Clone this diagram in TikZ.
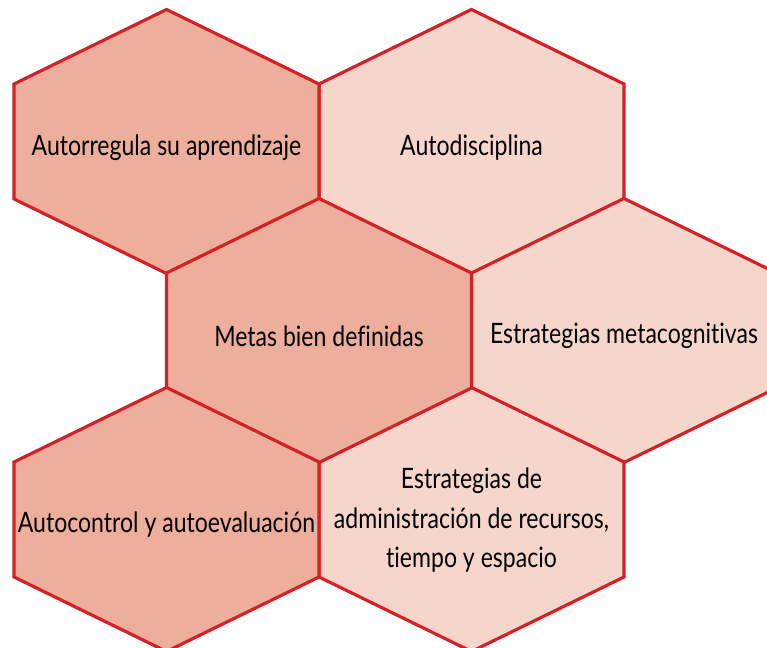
\documentclass[tikz,border=0pt]{standalone}
\usepackage{fontspec}
\setmainfont[FakeStretch=0.82,Ligatures=NoCommon]{Lato}
\definecolor{rojoborde}{HTML}{D42027}
\definecolor{salmonoscuro}{HTML}{EDAE9C}
\definecolor{salmonclaro}{HTML}{F6D6CB}
\begin{document}
\begin{tikzpicture}[x=0.02cm,y=0.02cm,line join=miter,
		hexborde/.style={draw=rojoborde,line width=1.8pt},
		hexoscuro/.style={hexborde,fill=salmonoscuro},
		hexclaro/.style={hexborde,fill=salmonclaro},
		texto/.style={font=\fontsize{16}{22.5}\selectfont,align=center,inner sep=0pt}]
			\useasboundingbox (0,0) rectangle (767,648);
			\clip (0,0) rectangle (767,648);
			
			% centros de los hexagonos
			\coordinate (H1) at (166.5, 506.5);
			\coordinate (H2) at (471.5, 506.5);
			\coordinate (H3) at (319, 317.5);
			\coordinate (H4) at (624, 317.5);
			\coordinate (H5) at (166.5, 128.5);
			\coordinate (H6) at (471.5, 128.5);
			
			% hexagonos claros
			\path[hexclaro] (H2) ++(0,132) -- ++(152.5,-74.5) -- ++(0,-115) -- ++(-152.5,-74.5) -- ++(-152.5,74.5) -- ++(0,115) -- cycle;
			\path[hexclaro] (H4) ++(0,132) -- ++(152.5,-74.5) -- ++(0,-115) -- ++(-152.5,-74.5) -- ++(-152.5,74.5) -- ++(0,115) -- cycle;
			\path[hexclaro] (H6) ++(0,132) -- ++(152.5,-74.5) -- ++(0,-115) -- ++(-152.5,-74.5) -- ++(-152.5,74.5) -- ++(0,115) -- cycle;
			
			% hexagonos oscuros
			\path[hexoscuro] (H1) ++(0,132) -- ++(152.5,-74.5) -- ++(0,-115) -- ++(-152.5,-74.5) -- ++(-152.5,74.5) -- ++(0,115) -- cycle;
			\path[hexoscuro] (H3) ++(0,132) -- ++(152.5,-74.5) -- ++(0,-115) -- ++(-152.5,-74.5) -- ++(-152.5,74.5) -- ++(0,115) -- cycle;
			\path[hexoscuro] (H5) ++(0,132) -- ++(152.5,-74.5) -- ++(0,-115) -- ++(-152.5,-74.5) -- ++(-152.5,74.5) -- ++(0,115) -- cycle;
			
			\node[texto] (autorregula) at ([yshift=-3.5]H1) {Autorregula su aprendizaje};
			\node[texto] (autodisciplina) at ([yshift=-3.5]H2) {Autodisciplina};
			\node[texto] (metas) at ([yshift=-3]H3) {Metas bien definidas};
			\node[texto] (metacognitivas) at ([yshift=-3]H4) {Estrategias metacognitivas};
			\node[texto] (autocontrol) at ([yshift=-3]H5) {Autocontrol y autoevaluación};
			\node[texto] (administracion) at ([yshift=-0.5]H6) {Estrategias de\\administración de recursos,\\tiempo y espacio};
		\end{tikzpicture}
\end{document}
